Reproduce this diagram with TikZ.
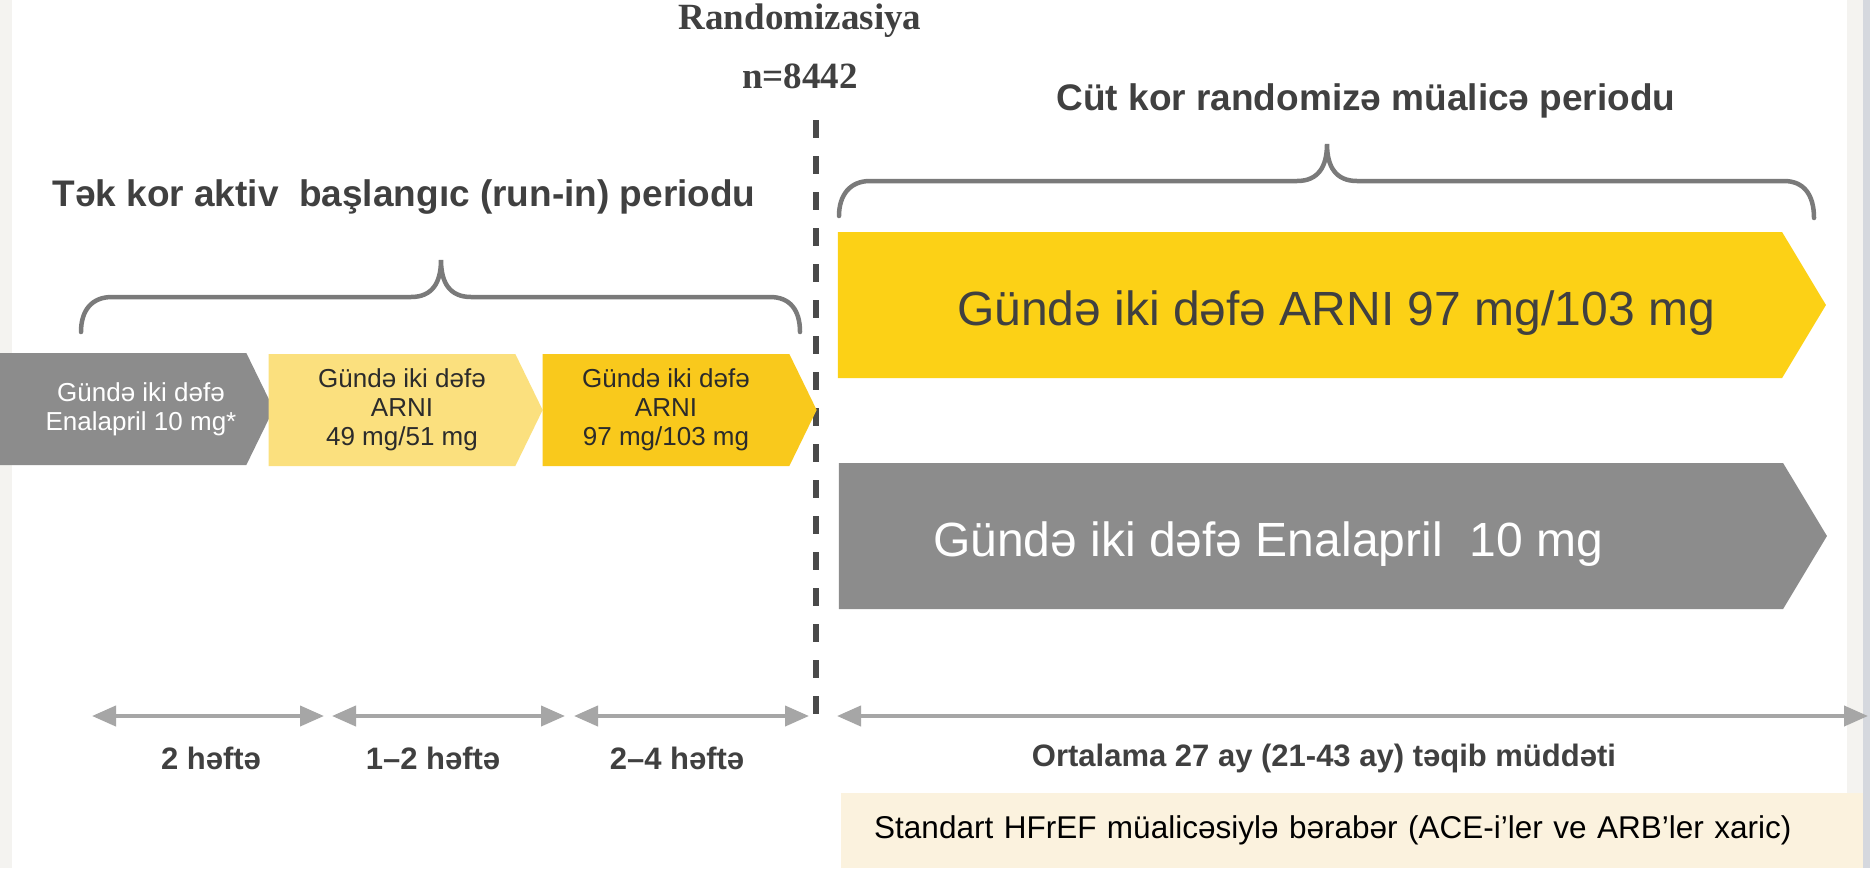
\documentclass[tikz,border=0pt]{standalone}
\usepackage{fontspec}
\setmainfont{Liberation Sans}
\newfontfamily\titlefont{Liberation Serif}
\usetikzlibrary{arrows.meta,shapes.symbols}
\definecolor{ink}{HTML}{404040}
\definecolor{ink2}{HTML}{2B2B2B}
\definecolor{greybar}{HTML}{8C8C8C}
\definecolor{yellowbar}{HTML}{FCD116}
\definecolor{yellowsoft}{HTML}{FBE07E}
\definecolor{yellowdeep}{HTML}{F9C91C}
\definecolor{bracegrey}{HTML}{7A7A7A}
\definecolor{spangrey}{HTML}{A6A6A6}
\definecolor{randgrey}{HTML}{4A4A4A}
\definecolor{cream}{HTML}{FBF2DE}
\definecolor{edge}{HTML}{F4F3F0}
\definecolor{edgeblue}{HTML}{D5D8DE}
\tikzset{
  every node/.style={text=ink},
  bar/.style={signal, signal to=east, draw=none, inner sep=0pt, align=center},
  bigbar/.style={bar, minimum width=988pt, minimum height=146pt, signal pointer angle=118, font=\fontsize{48}{56}\selectfont},
  smallbar/.style={bar, minimum width=274pt, minimum height=112pt, signal pointer angle=128, font=\fontsize{26}{29}\selectfont},
  heading/.style={font=\fontsize{37}{44}\selectfont\bfseries},
  randtitle/.style={font=\titlefont\fontsize{37}{44}\selectfont\bfseries},
  weeks/.style={font=\fontsize{31}{36}\selectfont\bfseries},
  bracepath/.style={draw=bracegrey, line width=4.5pt, line cap=round},
  spanarr/.style={{Triangle[length=24pt,width=20pt]}-{Triangle[length=24pt,width=20pt]}, draw=spangrey, line width=4pt},
  randline/.style={draw=randgrey, line width=6pt, dash pattern=on 18pt off 18pt},
}

\begin{document}
\begin{tikzpicture}[x=1pt, y=-1pt]
  \useasboundingbox (0,0) rectangle (1870,868);
  \fill[white] (0,0) rectangle (1870,868);
  % slide edges
  \fill[edge] (0,0) rectangle (12,868);
  \fill[edge] (1847,0) rectangle (1863,868);
  \fill[edgeblue] (1863,0) rectangle (1870,868);

  % ---- randomisation line ---------------------------------------------
  \node[randtitle] (rand) at (800,21) {Randomizasiya};
  \node[randtitle] (nrand) at (800,76) {n=8442};
  \coordinate (rtop) at (816,120);
  \coordinate (rbot) at (816,722);
  \draw[randline] (rtop) -- (rbot);

  % ---- run-in period --------------------------------------------------
  \node[heading] (runhead) at (404,197) {Tək kor aktiv\ \ başlangıc (run-in) periodu};
  \draw[bracepath] (81,332) .. controls (81,310) and (92,297) .. (112,297) -- (411,297)
    .. controls (432,297) and (441,283) .. (441,260)
    .. controls (441,283) and (450,297) .. (471,297) -- (770,297)
    .. controls (790,297) and (800,310) .. (800,332);
  \node[smallbar, fill=greybar, text=white] (run1) at (123,409)
    {\hspace*{36pt}Gündə iki dəfə\\\hspace*{36pt}Enalapril 10 mg*};
  \node[smallbar, fill=yellowsoft, text=ink2] (run2) at (392,410)
    {\hspace*{20pt}Gündə iki dəfə\\\hspace*{20pt}ARNI\\\hspace*{20pt}49 mg/51 mg};
  \node[smallbar, fill=yellowdeep, text=ink2] (run3) at (666,410) {Gündə iki dəfə\\ARNI\\97 mg/103 mg};

  % ---- double-blind period --------------------------------------------
  \node[heading] (dbhead) at (1366,101) {Cüt kor randomizə müalicə periodu};
  \draw[bracepath] (839,216) .. controls (839,195) and (850,181) .. (870,181) -- (1297,181)
    .. controls (1318,181) and (1327,167) .. (1327,144)
    .. controls (1327,167) and (1336,181) .. (1357,181) -- (1784,181)
    .. controls (1804,181) and (1814,195) .. (1814,218);
  \node[bigbar, fill=yellowbar] (arni) at (1310,305)
    {\raisebox{-8pt}[\height][\depth]{\hspace*{52pt}Gündə iki dəfə ARNI 97 mg/103 mg}};
  \node[bigbar, fill=greybar, text=white] (enal) at (1311,536)
    {\raisebox{-8pt}[\height][\depth]{Gündə iki dəfə Enalapril\ \ 10 mg\hspace*{86pt}}};

  % ---- durations ------------------------------------------------------
  \coordinate (d1a) at (92,716);  \coordinate (d1b) at (324,716);
  \coordinate (d2a) at (332,716); \coordinate (d2b) at (565,716);
  \coordinate (d3a) at (574,716); \coordinate (d3b) at (809,716);
  \coordinate (d4a) at (837,716); \coordinate (d4b) at (1868,716);
  \draw[spanarr] (d1a) -- (d1b);
  \draw[spanarr] (d2a) -- (d2b);
  \draw[spanarr] (d3a) -- (d3b);
  \draw[spanarr] (d4a) -- (d4b);
  \node[weeks] (w1) at (211,758) {2 həftə};
  \node[weeks] (w2) at (433,758) {1--2 həftə};
  \node[weeks] (w3) at (677,758) {2--4 həftə};
  \node[weeks] (w4) at (1324,758) {Ortalama 27 ay (21-43 ay) təqib müddəti};

  % background therapy
  \node[fill=cream, anchor=north west, minimum height=75pt, text width=956pt, inner xsep=33pt, inner ysep=0pt,
    align=left, text=black, font=\fontsize{31.5}{38}\selectfont] (std) at (841,793)
    {Standart HFrEF müalicəsiylə bərabər (ACE-i’ler ve ARB’ler xaric)};
\end{tikzpicture}
\end{document}
